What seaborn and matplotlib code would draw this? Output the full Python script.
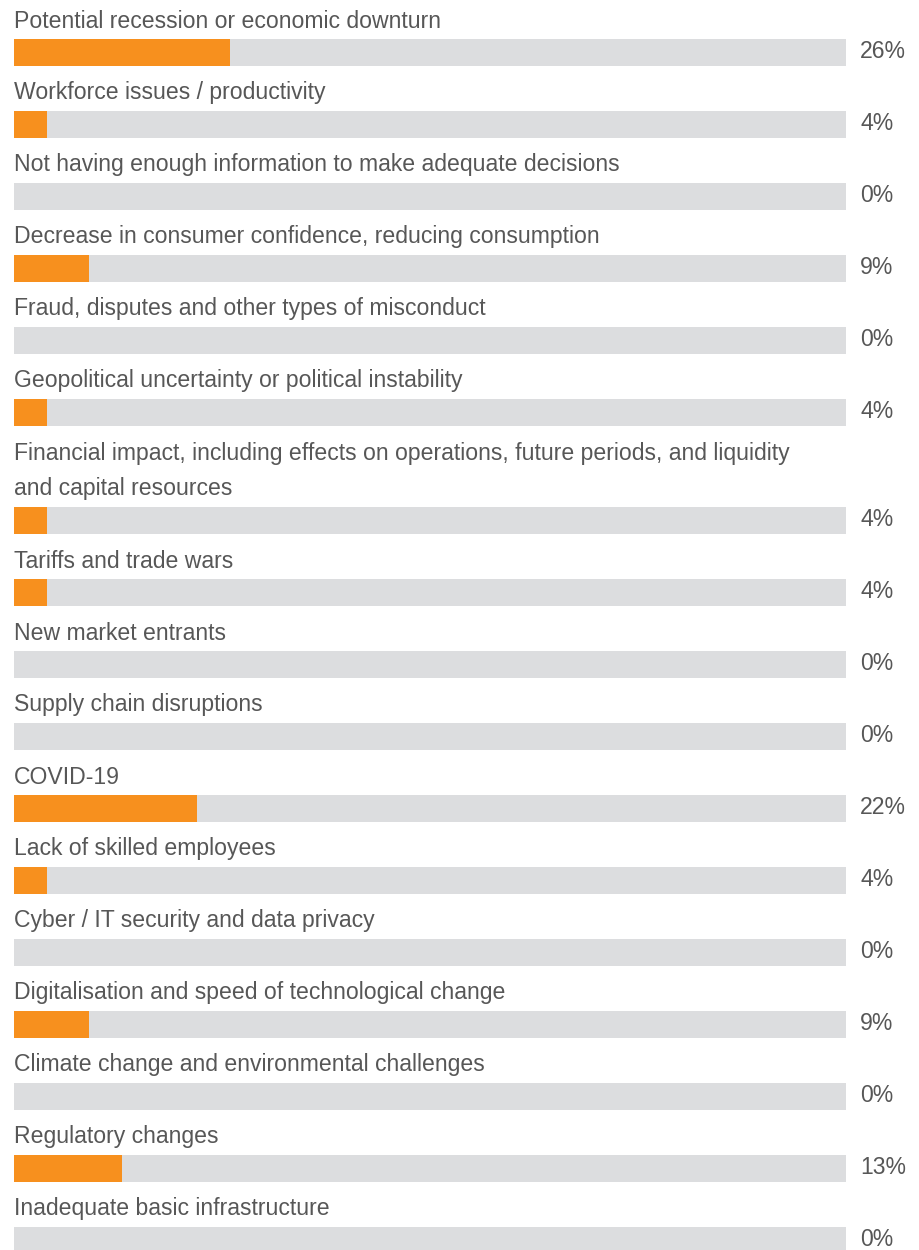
import matplotlib
matplotlib.use("Agg")
import matplotlib.pyplot as plt
import seaborn as sns
import pandas as pd

categories = [
    "Potential recession or economic downturn",
    "Workforce issues / productivity",
    "Not having enough information to make adequate decisions",
    "Decrease in consumer confidence, reducing consumption",
    "Fraud, disputes and other types of misconduct",
    "Geopolitical uncertainty or political instability",
    "Financial impact, including effects on operations, future periods, and liquidity\nand capital resources",
    "Tariffs and trade wars",
    "New market entrants",
    "Supply chain disruptions",
    "COVID-19",
    "Lack of skilled employees",
    "Cyber / IT security and data privacy",
    "Digitalisation and speed of technological change",
    "Climate change and environmental challenges",
    "Regulatory changes",
    "Inadequate basic infrastructure",
]
values = [26, 4, 0, 9, 0, 4, 4, 4, 0, 0, 22, 4, 0, 9, 0, 13, 0]
full = [100] * len(categories)

W, H = 919, 1250
sns.set_theme(style="white")
plt.rcParams['font.family'] = ['Liberation Sans', 'DejaVu Sans']

# layout in pixel units
pitch = 72
extra = 36
first_center = 52
ypos = []
y = first_center
for c in categories:
    if "\n" in c:
        y += extra
    ypos.append(y)
    y += pitch

df = pd.DataFrame({"cat": categories, "val": values, "full": full, "y": ypos})

fig = plt.figure(figsize=(W / 100, H / 100), dpi=100)
ax = fig.add_axes([0, 0, 1, 1])

px_per_pct = 832 / 100
x0 = 14
bw = 27 / pitch

sns.barplot(data=df, x="full", y="y", orient="h", native_scale=True,
            color="#dcdddf", width=bw, saturation=1, ax=ax, linewidth=0)
sns.barplot(data=df, x="val", y="y", orient="h", native_scale=True,
            color="#f7901e", width=bw, saturation=1, ax=ax, linewidth=0)

ax.set_xlim(-x0 / px_per_pct, (W - x0) / px_per_pct)
ax.set_ylim(H, 0)
ax.axis("off")

txtcol = "#575757"
fs = 16.6
for c, v, yc in zip(categories, values, ypos):
    top = yc - 13.5
    ax.text(0, top - 11, c, ha="left", va="baseline", fontsize=fs,
            color=txtcol, linespacing=1.68)
    ax.text(101.7, yc + 5.5, f"{v}%", ha="left", va="baseline", fontsize=fs,
            color=txtcol)

fig.savefig("out.png", dpi=100)
